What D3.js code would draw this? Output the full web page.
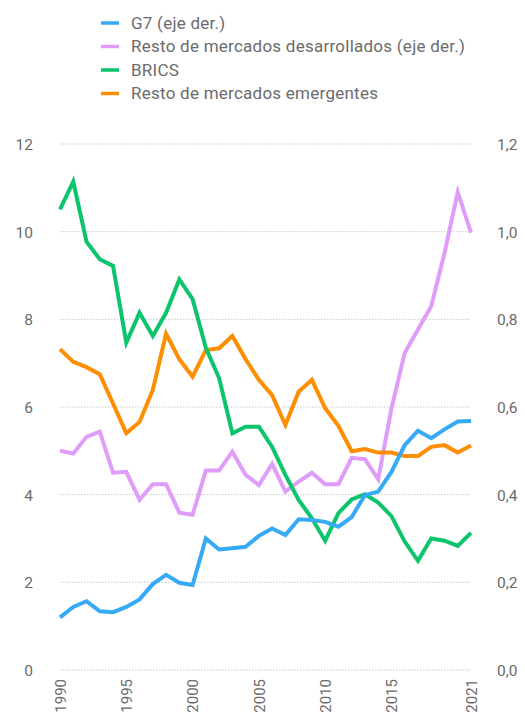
<!DOCTYPE html>
<html><head><meta charset="utf-8">
<script src="https://cdnjs.cloudflare.com/ajax/libs/d3/7.8.5/d3.min.js"></script>
<style>
html,body{margin:0;padding:0;background:#fff;}
text{font-family:Roboto,"Noto Sans",sans-serif;}
</style></head>
<body><svg id="c" width="525" height="713"></svg>
<script>
const years = d3.range(1990, 2022);
const seriesNames = ["G7 (eje der.)", "Resto de mercados desarrollados (eje der.)", "BRICS", "Resto de mercados emergentes"];
const seriesColors = ["#36a9f7", "#df9cf8", "#0cc46b", "#fd8e00"];
const g7 = [0.120,0.144,0.157,0.134,0.132,0.144,0.161,0.196,0.217,0.199,0.194,0.300,0.275,0.278,0.281,0.306,0.323,0.308,0.344,0.342,0.338,0.327,0.349,0.399,0.407,0.452,0.513,0.546,0.529,0.549,0.567,0.568];
const restoDes = [0.500,0.494,0.532,0.544,0.450,0.452,0.388,0.424,0.424,0.359,0.354,0.455,0.455,0.498,0.445,0.422,0.470,0.407,0.430,0.450,0.424,0.424,0.484,0.481,0.435,0.597,0.723,0.777,0.830,0.951,1.090,0.998];
const brics = [10.51,11.14,9.77,9.37,9.22,7.47,8.15,7.62,8.15,8.91,8.46,7.35,6.66,5.40,5.55,5.55,5.09,4.45,3.88,3.46,2.95,3.58,3.89,4.01,3.82,3.51,2.93,2.49,3.00,2.95,2.83,3.13];
const restoEm = [7.32,7.03,6.91,6.75,6.08,5.40,5.66,6.39,7.67,7.09,6.69,7.30,7.34,7.62,7.09,6.62,6.27,5.59,6.35,6.62,5.97,5.57,4.99,5.04,4.96,4.96,4.88,4.88,5.09,5.13,4.96,5.12];
const leftTicks = [0,2,4,6,8,10,12];
const rightTicks = [0,0.2,0.4,0.6,0.8,1.0,1.2];
const xTicks = [1990,1995,2000,2005,2010,2015,2021];

const svg = d3.select("#c");
const x = d3.scaleLinear().domain([1990,2021]).range([60,471]);
const yL = d3.scaleLinear().domain([0,12]).range([670,144]);
const yR = d3.scaleLinear().domain([0,1.2]).range([670,144]);
const txt = "#6b6b6b";

// gridlines
svg.append("g").selectAll("line").data(leftTicks).join("line")
  .attr("x1", 60).attr("x2", 470)
  .attr("y1", d=>yL(d)).attr("y2", d=>yL(d))
  .attr("stroke", "#c8c8c8").attr("stroke-width", 1).attr("stroke-dasharray", "1.5,1.5");

// left axis
const la = svg.append("g").attr("transform","translate(33,0)")
  .call(d3.axisLeft(yL).tickValues(leftTicks).tickSize(0).tickPadding(0).tickFormat(d3.format("d")));
la.select(".domain").remove();
la.selectAll("text").attr("fill", txt).style("font-size","15.5px").attr("dy","0.35em");

// right axis
const fmtR = d => d3.format(".1f")(d).replace(".", ",");
const ra = svg.append("g").attr("transform","translate(497,0)")
  .call(d3.axisRight(yR).tickValues(rightTicks).tickSize(0).tickPadding(0).tickFormat(fmtR));
ra.select(".domain").remove();
ra.selectAll("text").attr("fill", txt).style("font-size","15.5px").attr("dy","0.35em");

// x axis
const xa = svg.append("g").attr("transform","translate(0,678)")
  .call(d3.axisBottom(x).tickValues(xTicks).tickSize(0).tickPadding(0).tickFormat(d3.format("d")));
xa.select(".domain").remove();
xa.selectAll(".tick text").attr("fill", txt).style("font-size","15px")
  .attr("transform","rotate(-90)").attr("text-anchor","end")
  .attr("x",-1).attr("y",0).attr("dy","0.35em");

// lines
const series = [
  {v:g7, y:yR}, {v:restoDes, y:yR}, {v:brics, y:yL}, {v:restoEm, y:yL}
];
const drawOrder = [1,3,2,0];
drawOrder.forEach(i => {
  const s = series[i];
  const line = d3.line().x((d,j)=>x(years[j])).y(d=>s.y(d));
  svg.append("path").datum(s.v).attr("d", line)
    .attr("fill","none").attr("stroke", seriesColors[i]).attr("stroke-width", 4)
    .attr("stroke-linejoin","miter").attr("stroke-miterlimit", 4);
});

// legend
const lg = svg.append("g");
const legY = [23, 46.5, 70, 93.5];
seriesNames.forEach((n,i) => {
  lg.append("line").attr("x1",101).attr("x2",119).attr("y1",legY[i]).attr("y2",legY[i])
    .attr("stroke", seriesColors[i]).attr("stroke-width",3.5);
  lg.append("text").attr("x",131).attr("y",legY[i]).attr("dy","0.35em")
    .attr("fill", txt).style("font-size","17px").style("letter-spacing","0.25px").text(n);
});
</script></body></html>
